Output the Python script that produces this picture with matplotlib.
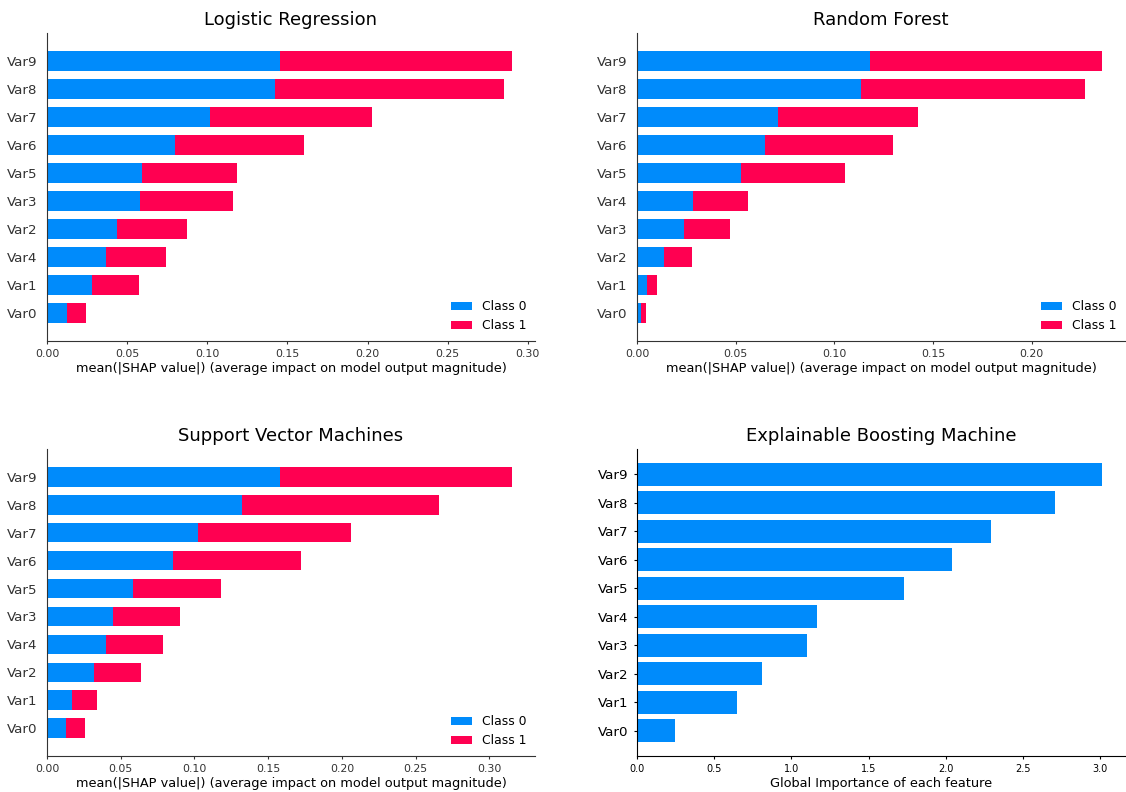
import matplotlib
matplotlib.use("Agg")
import matplotlib.pyplot as plt
import numpy as np

BLUE = "#008bfb"
RED = "#ff0051"
AXIS_COLOR = "#333333"

# Logistic Regression: feature order (bottom to top) and mean |SHAP| per class
lr_features = ["Var0", "Var1", "Var4", "Var2", "Var3", "Var5", "Var6", "Var7", "Var8", "Var9"]
lr_class0 = [0.0122, 0.0281, 0.0370, 0.0436, 0.0580, 0.0591, 0.0799, 0.1016, 0.1424, 0.1452]
lr_class1 = [0.0124, 0.0290, 0.0372, 0.0438, 0.0580, 0.0596, 0.0806, 0.1012, 0.1427, 0.1448]

# Random Forest
rf_features = ["Var0", "Var1", "Var2", "Var3", "Var4", "Var5", "Var6", "Var7", "Var8", "Var9"]
rf_class0 = [0.0022, 0.0052, 0.0139, 0.0237, 0.0284, 0.0528, 0.0650, 0.0714, 0.1138, 0.1183]
rf_class1 = [0.0023, 0.0051, 0.0138, 0.0234, 0.0280, 0.0526, 0.0650, 0.0710, 0.1135, 0.1173]

# Support Vector Machines
svm_features = ["Var0", "Var1", "Var2", "Var4", "Var3", "Var5", "Var6", "Var7", "Var8", "Var9"]
svm_class0 = [0.0130, 0.0171, 0.0317, 0.0397, 0.0450, 0.0584, 0.0856, 0.1026, 0.1325, 0.1577]
svm_class1 = [0.0130, 0.0170, 0.0318, 0.0391, 0.0451, 0.0594, 0.0863, 0.1032, 0.1331, 0.1574]

# Explainable Boosting Machine global importances
ebm_features = ["Var0", "Var1", "Var2", "Var3", "Var4", "Var5", "Var6", "Var7", "Var8", "Var9"]
ebm_importance = [0.249, 0.647, 0.809, 1.102, 1.163, 1.729, 2.041, 2.292, 2.707, 3.009]

class_names = ["Class 0", "Class 1"]
shap_xlabel = "mean(|SHAP value|) (average impact on model output magnitude)"

fig = plt.figure(figsize=(11.26, 7.92), dpi=100)

W, H = 1126.0, 792.0
col_x = [47 / W, 637 / W]
ax_w = 488 / W
row_y = [(1 - 341 / H), (1 - 756 / H)]
ax_h = [308 / H, 307 / H]


def shap_bar(ax, features, c0, c1, title):
    y = np.arange(len(features))
    c0 = np.asarray(c0)
    c1 = np.asarray(c1)
    ax.barh(y, c0, 0.7, color=BLUE, label=class_names[0])
    ax.barh(y, c1, 0.7, left=c0, color=RED, label=class_names[1])
    ax.set_yticks(y)
    ax.set_yticklabels(features, fontsize=9.6)
    ax.set_ylim(-1, len(features))
    ax.xaxis.set_ticks_position("bottom")
    ax.yaxis.set_ticks_position("none")
    for s in ("right", "top"):
        ax.spines[s].set_visible(False)
    for s in ("left", "bottom"):
        ax.spines[s].set_color(AXIS_COLOR)
        ax.spines[s].set_linewidth(0.8)
    ax.tick_params(color=AXIS_COLOR, labelcolor=AXIS_COLOR)
    ax.tick_params("x", labelsize=7.9, length=2.5)
    ax.xaxis.set_major_formatter(matplotlib.ticker.FormatStrFormatter("%.2f"))
    ax.set_xlabel(shap_xlabel, fontsize=9.3, labelpad=2)
    ax.legend(frameon=False, fontsize=8.9, loc="lower right",
              handlelength=1.7, borderaxespad=0.3)
    ax.set_title(title, fontsize=13)


ax1 = fig.add_axes([col_x[0], row_y[0], ax_w, ax_h[0]])
shap_bar(ax1, lr_features, lr_class0, lr_class1, "Logistic Regression")

ax2 = fig.add_axes([col_x[1], row_y[0], ax_w, ax_h[0]])
shap_bar(ax2, rf_features, rf_class0, rf_class1, "Random Forest")

ax3 = fig.add_axes([col_x[0], row_y[1], ax_w, ax_h[1]])
shap_bar(ax3, svm_features, svm_class0, svm_class1, "Support Vector Machines")

ax4 = fig.add_axes([col_x[1], row_y[1], ax_w, ax_h[1]])
y4 = np.arange(len(ebm_features))
ax4.barh(y4, ebm_importance, color=BLUE)
ax4.set_yticks(y4)
ax4.set_yticklabels(ebm_features, fontsize=9.6)
ax4.tick_params("x", labelsize=7, length=2.5)
ax4.tick_params("y", length=2.5)
ax4.spines["right"].set_visible(False)
ax4.spines["top"].set_visible(False)
ax4.set_xlabel("Global Importance of each feature", fontsize=9.3, labelpad=2)
ax4.set_title("Explainable Boosting Machine", fontsize=13)

fig.savefig("out.png", dpi=100)
